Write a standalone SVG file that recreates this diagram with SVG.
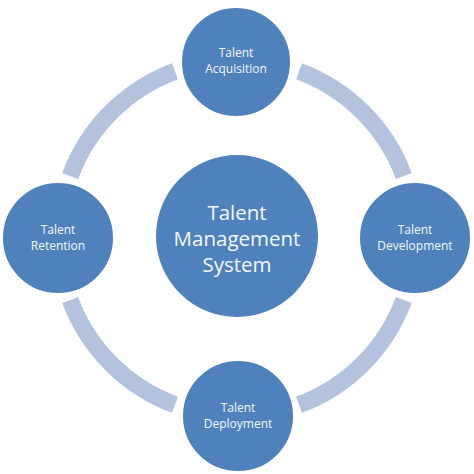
<svg xmlns="http://www.w3.org/2000/svg" width="474" height="474" viewBox="0 0 474 474">
<style>
.ring{fill:none;stroke:#b3c3de;stroke-width:17;stroke-linecap:butt}
.node{fill:#4f81bd;stroke:#ffffff;stroke-width:2}
.lbl{font-family:"Open Sans","Liberation Sans",sans-serif;font-size:12px;fill:#f4f7fb;text-anchor:middle}
.big{font-family:"Open Sans","Liberation Sans",sans-serif;font-size:20.5px;fill:#f4f7fb;text-anchor:middle}
</style>
<rect width="474" height="474" fill="#ffffff"/>
<g id="connectors">
<path class="ring" d="M299.05,71.16 A178,178 0 0 1 403.84,175.95"/>
<path class="ring" d="M403.84,300.05 A178,178 0 0 1 299.05,404.84"/>
<path class="ring" d="M174.95,404.84 A178,178 0 0 1 70.16,300.05"/>
<path class="ring" d="M70.16,175.95 A178,178 0 0 1 174.95,71.16"/>
</g>
<g id="center">
<circle class="node" cx="237" cy="236" r="82"/>
<text class="big" x="237" y="220">Talent</text>
<text class="big" x="237" y="246">Management</text>
<text class="big" x="237" y="272">System</text>
</g>
<g id="acquisition">
<circle class="node" cx="236" cy="62" r="55"/>
<text class="lbl" x="236" y="57">Talent</text>
<text class="lbl" x="236" y="73">Acquisition</text>
</g>
<g id="development">
<circle class="node" cx="415" cy="238" r="56"/>
<text class="lbl" x="415" y="234">Talent</text>
<text class="lbl" x="415" y="250">Development</text>
</g>
<g id="deployment">
<circle class="node" cx="238" cy="416" r="56"/>
<text class="lbl" x="238" y="412">Talent</text>
<text class="lbl" x="238" y="428">Deployment</text>
</g>
<g id="retention">
<circle class="node" cx="58" cy="238" r="56"/>
<text class="lbl" x="58" y="234">Talent</text>
<text class="lbl" x="58" y="250">Retention</text>
</g>
</svg>
